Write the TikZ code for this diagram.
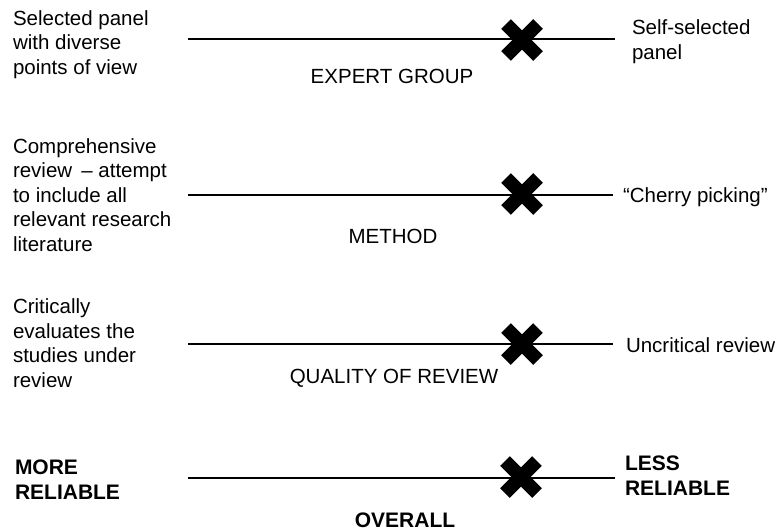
\documentclass[tikz,border=0pt]{standalone}
\usepackage{fontspec}
\setmainfont{Liberation Sans}
\begin{document}
\begin{tikzpicture}[x=1pt,y=-1pt,
  txt/.style={inner sep=0pt,outer sep=0pt,align=left,anchor=base west,
    font=\fontsize{20.5}{24.5}\selectfont},
  boldtxt/.style={txt,font=\fontsize{21}{24.5}\selectfont\bfseries},
  axislabel/.style={inner sep=0pt,outer sep=0pt,anchor=base,
    font=\fontsize{20.5}{24.5}\selectfont},
  scale line/.style={line width=2.6pt},
  cross/.style={line width=13.5pt,line cap=butt}]
\useasboundingbox (0,0) rectangle (783,531);

% multi-line blocks are placed by the baseline of their last line

% --- expert group ---
\coordinate (a1) at (188,39);
\coordinate (b1) at (615,39);
\draw[scale line] (a1) -- (b1);
\node[txt] (l1) at (13,74) {Selected panel\\with diverse\\points of view};
\node[txt] (r1) at (632,59) {Self-selected\\panel};
\node[axislabel] (c1) at (392,83) {EXPERT GROUP};
\coordinate (x1) at (522,40);
\draw[cross] ([shift={(-16,-16)}]x1) -- ([shift={(16,16)}]x1);
\draw[cross] ([shift={(-16,16)}]x1) -- ([shift={(16,-16)}]x1);

% --- method ---
\coordinate (a2) at (188,195);
\coordinate (b2) at (613,195);
\draw[scale line] (a2) -- (b2);
\node[txt] (l2) at (13,251) {Comprehensive\\review \,– attempt\\to include all\\relevant research\\literature};
\node[txt] (r2) at (623,202) {“Cherry picking”};
\node[axislabel] (c2) at (393,243) {METHOD};
\coordinate (x2) at (522,194);
\draw[cross] ([shift={(-16,-16)}]x2) -- ([shift={(16,16)}]x2);
\draw[cross] ([shift={(-16,16)}]x2) -- ([shift={(16,-16)}]x2);

% --- quality of review ---
\coordinate (a3) at (188,344);
\coordinate (b3) at (613,344);
\draw[scale line] (a3) -- (b3);
\node[txt] (l3) at (13,387) {Critically\\evaluates the\\studies under\\review};
\node[txt] (r3) at (626,352) {Uncritical review};
\node[axislabel] (c3) at (394,383) {QUALITY OF REVIEW};
\coordinate (x3) at (522,344);
\draw[cross] ([shift={(-16,-16)}]x3) -- ([shift={(16,16)}]x3);
\draw[cross] ([shift={(-16,16)}]x3) -- ([shift={(16,-16)}]x3);

% --- overall ---
\coordinate (a4) at (188,478);
\coordinate (b4) at (615,478);
\draw[scale line] (a4) -- (b4);
\node[boldtxt] (l4) at (15,499) {MORE\\RELIABLE};
\node[boldtxt] (r4) at (625,495) {LESS\\RELIABLE};
\node[axislabel,font=\fontsize{21}{24.5}\selectfont\bfseries] (c4) at (405,527) {OVERALL};
\coordinate (x4) at (521,477);
\draw[cross] ([shift={(-16,-16)}]x4) -- ([shift={(16,16)}]x4);
\draw[cross] ([shift={(-16,16)}]x4) -- ([shift={(16,-16)}]x4);
\end{tikzpicture}
\end{document}
